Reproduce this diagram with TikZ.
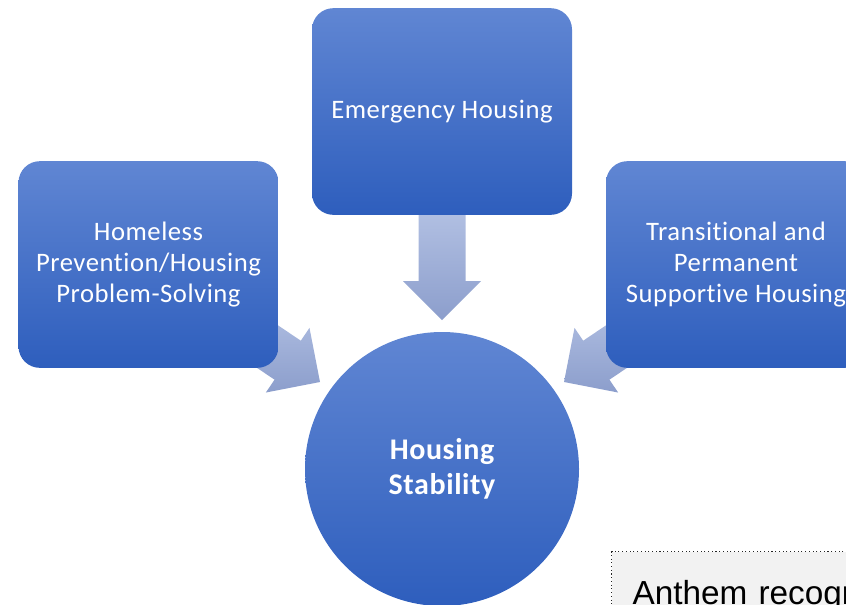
\documentclass[tikz,border=0pt]{standalone}
\usepackage{fontspec}
\setmainfont{Carlito}[Ligatures=CommonOff, LetterSpace=2]
\newfontfamily\notefont{Liberation Sans}
\definecolor{boxtop}{RGB}{96,134,211}
\definecolor{boxbot}{RGB}{46,94,189}
\definecolor{arrtop}{RGB}{180,194,228}
\definecolor{arrbot}{RGB}{140,158,204}
\definecolor{notegray}{RGB}{242,242,242}

\begin{document}
\begin{tikzpicture}[
      x=0.75pt, y=-0.75pt,
      stepbox/.style={rounded corners=16pt, minimum width=195pt, minimum height=155pt,
        top color=boxtop, bottom color=boxbot, draw=none, text=white,
        align=center, font=\fontsize{20}{23}\selectfont},
      goal/.style={circle, minimum size=205.5pt, top color=boxtop, bottom color=boxbot,
        draw=none, text=white, align=center, font=\fontsize{22.5}{26}\selectfont\bfseries},
      blockarrow/.style={top color=arrtop, bottom color=arrbot, draw=none},
      notebox/.style={draw=black!85, dotted, thick, fill=notegray, anchor=north west,
        text width=300pt, inner xsep=15.75pt, inner ysep=0pt,
        text height=39.75pt, text depth=20pt, align=left,
        font=\notefont\fontsize{25}{30}\selectfont}
    ]
    \path[use as bounding box, clip] (0,0) rectangle (846,604);

    % tips of the three block arrows
    \coordinate (tipTop) at (442,320);
    \coordinate (tipLeft) at (320,382);
    \coordinate (tipRight) at (564,382);

    % block arrows, drawn first so the boxes hide their tails
    \foreach \tip/\ang in {tipTop/-90, tipLeft/-34, tipRight/-146} {
      \begin{scope}[shift={(\tip)}, rotate=\ang]
        \shade[blockarrow] (0,0) -- (-39,39) -- (-39,23.5) -- (-116,23.5)
          -- (-116,-23.5) -- (-39,-23.5) -- (-39,-39) -- cycle;
      \end{scope}
    }

    % the three housing steps
    \node[stepbox] (emergency) at (442,111.5) {Emergency Housing};
    \node[stepbox] (prevention) at (148.5,264.5) {Homeless\\Prevention/Housing\\Problem-Solving};
    \node[stepbox] (supportive) at (736,264.5) {Transitional and\\Permanent\\Supportive Housing};

    % goal in the middle
    \node[goal] (stability) at (442,469) {Housing\\Stability};

    % note box, cut off at the edge
    \node[notebox] (note) at (611,551) {Anthem recogn};
  \end{tikzpicture}
\end{document}
